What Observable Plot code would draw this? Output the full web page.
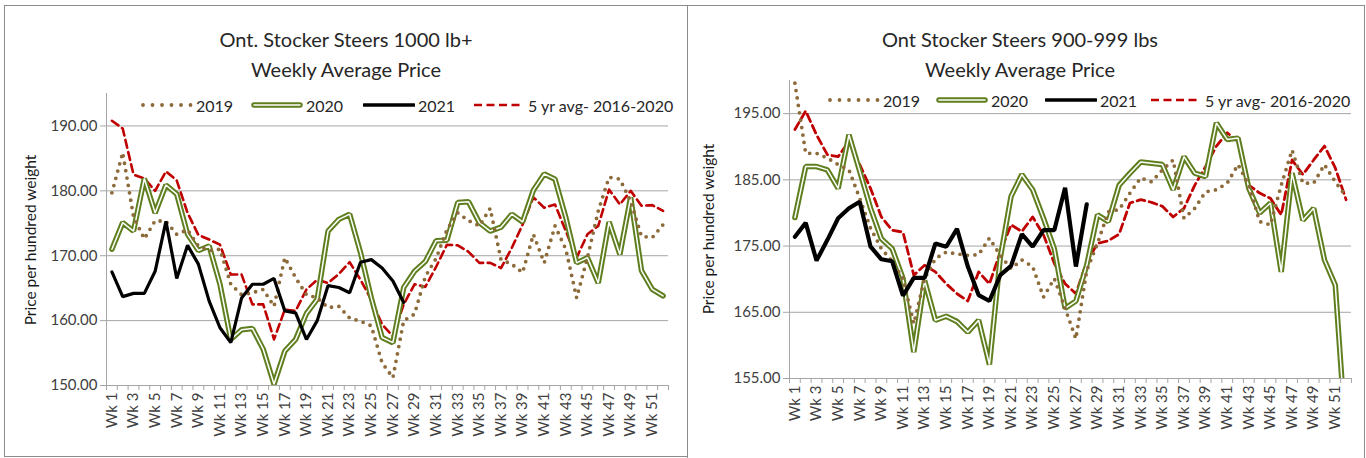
<!DOCTYPE html>
<html>
<head>
<meta charset="utf-8">
<script src="https://cdn.jsdelivr.net/npm/d3@7"></script>
<script src="https://cdn.jsdelivr.net/npm/@observablehq/plot@0.6"></script>
<style>
  html, body { margin: 0; padding: 0; background: #fff; }
  #root { position: relative; width: 1366px; height: 458px; overflow: hidden; background: #fff; font-family: Lato, "Open Sans", sans-serif; }
  .panel { position: absolute; border: 1px solid #8c8c8c; box-sizing: border-box; background: #fff; }
  .title { position: absolute; text-align: center; font-size: 20px; line-height: 30px; color: #262626; z-index: 3; white-space: nowrap; }
  .plotwrap { position: absolute; z-index: 1; }
  .leg { position: absolute; z-index: 2; display: flex; align-items: center; font-size: 16px; color: #262626; white-space: nowrap; height: 20px; }
  .leg svg { display: block; }
  .ylab { position: absolute; z-index: 2; width: 260px; height: 20px; line-height: 20px; text-align: center; font-size: 15.5px; color: #1a1a1a; transform: rotate(-90deg); white-space: nowrap; }
</style>
</head>
<body>
<div id="root"></div>
<script>
// ---------- data ----------
const weeks = ["Wk 1","Wk 2","Wk 3","Wk 4","Wk 5","Wk 6","Wk 7","Wk 8","Wk 9","Wk 10",
  "Wk 11","Wk 12","Wk 13","Wk 14","Wk 15","Wk 16","Wk 17","Wk 18","Wk 19","Wk 20",
  "Wk 21","Wk 22","Wk 23","Wk 24","Wk 25","Wk 26","Wk 27","Wk 28","Wk 29","Wk 30",
  "Wk 31","Wk 32","Wk 33","Wk 34","Wk 35","Wk 36","Wk 37","Wk 38","Wk 39","Wk 40",
  "Wk 41","Wk 42","Wk 43","Wk 44","Wk 45","Wk 46","Wk 47","Wk 48","Wk 49","Wk 50",
  "Wk 51","Wk 52"];
const seriesNames = ["2019", "2020", "2021", "5 yr avg- 2016-2020"];
const yTitle = "Price per hundred weight";

// Left: Ont. Stocker Steers 1000 lb+
const left2019 = [179.7,185.9,176.0,172.6,175.4,175.3,173.3,174.0,171.5,170.8,
  171.0,165.6,164.0,164.3,164.8,162.2,169.7,166.6,164.0,163.5,
  162.0,162.2,160.4,159.9,159.2,153.5,151.2,160.0,161.0,166.8,
  169.6,174.0,176.6,175.4,174.6,177.3,169.4,168.7,167.4,173.3,
  168.9,174.6,171.0,163.5,169.7,176.9,182.1,181.8,178.4,173.0,
  172.8,174.8];
const left2020 = [171.0,175.1,173.8,181.9,176.6,180.9,179.5,173.3,170.8,171.5,
  165.6,157.1,158.6,158.8,155.6,150.2,155.3,157.1,161.1,163.3,
  173.8,175.6,176.4,170.5,163.5,157.4,156.6,165.1,167.6,169.1,
  172.3,172.4,178.2,178.3,175.1,173.8,174.4,176.4,175.2,180.1,
  182.6,181.8,175.9,168.9,169.7,165.8,175.2,170.2,179.0,167.7,
  164.8,163.8];
const left2021 = [167.5,163.7,164.2,164.2,167.6,175.3,166.5,171.6,168.7,163.0,
  158.9,156.6,163.5,165.6,165.6,166.5,161.5,161.2,157.1,160.0,
  165.4,165.1,164.3,169.0,169.4,168.1,166.1,162.8];
const left5yr = [190.8,189.6,182.5,181.9,180.0,183.0,181.6,176.6,173.2,172.5,
  171.7,167.1,167.1,162.5,162.5,157.1,161.7,161.5,164.8,166.3,
  165.8,167.2,169.0,166.3,163.2,159.4,157.6,162.5,165.6,165.2,
  168.3,171.7,171.6,170.6,168.9,168.9,168.1,171.2,174.8,179.0,
  177.4,177.9,173.8,169.7,173.3,174.6,180.2,177.9,180.0,177.7,
  177.8,176.9];
const leftTicks = [150, 160, 170, 180, 190];

// Right: Ont Stocker Steers 900-999 lbs
const right2019 = [199.6,189.0,189.0,188.3,187.3,186.5,182.2,177.7,174.6,172.7,
  170.1,163.3,170.1,173.1,174.1,173.8,173.6,173.7,176.2,173.6,
  171.6,172.9,171.9,167.3,170.1,165.6,161.0,171.3,175.4,180.2,
  180.5,183.0,185.3,184.7,186.5,188.0,179.2,180.7,183.2,183.5,
  184.5,187.3,184.2,178.7,178.2,184.2,189.5,184.5,184.5,187.3,
  184.7,182.5];
const right2020 = [179.3,187.0,187.0,186.5,183.7,191.8,186.3,180.7,176.1,174.6,
  170.1,159.0,169.8,163.8,164.4,163.6,162.0,163.8,157.1,173.2,
  182.5,185.8,183.5,179.2,174.6,165.6,166.7,172.1,179.7,178.7,
  184.2,186.0,187.7,187.5,187.3,183.5,188.5,186.0,185.5,193.6,
  191.1,191.3,183.7,180.0,181.5,171.1,186.0,178.9,180.7,172.9,
  169.1,145.5];
const right2021 = [176.4,178.5,172.8,175.9,179.2,180.7,181.7,174.9,173.0,172.7,
  167.5,170.2,170.2,175.4,174.9,177.6,171.9,167.6,166.7,170.6,
  172.0,176.8,174.9,177.4,177.4,183.8,171.9,181.3];
const right5yr = [192.6,195.4,191.8,188.8,188.5,190.8,187.3,183.7,179.4,177.4,
  177.1,170.6,172.1,171.1,169.3,167.8,166.7,171.1,169.3,174.1,
  178.2,177.2,179.4,176.7,172.4,169.3,167.8,172.6,175.4,175.8,
  176.8,181.5,182.0,181.6,181.0,179.4,180.7,184.2,187.0,190.1,
  192.1,190.8,184.2,183.0,182.2,179.7,188.0,185.8,188.0,190.1,
  186.8,182.0];
const rightTicks = [155, 165, 175, 185, 195];

// ---------- styles ----------
const C2019 = "#8c6a3a", C2020 = "#5f7f1f", C2021 = "#000000", C5YR = "#c00000";
const GRID = "#a6a6a6";

function makeChart(cfg) {
  const wk = (d, i) => i + 1;
  const boundaries = d3.range(0.5, weeks.length + 1, 1);
  const oddWeeks = d3.range(1, weeks.length + 1, 2);
  return Plot.plot({
    width: cfg.width,
    height: cfg.height,
    marginLeft: cfg.ml, marginRight: cfg.mr, marginTop: cfg.mt, marginBottom: cfg.mb,
    style: { fontFamily: "Lato, 'Open Sans', sans-serif", fontSize: "15px", color: "#404040", background: "transparent", overflow: "visible" },
    x: { type: "linear", domain: [0.5, weeks.length + 0.5] },
    y: { domain: cfg.ydomain },
    marks: [
      Plot.gridY(cfg.ticks, { stroke: GRID, strokeOpacity: 1, strokeWidth: 1 }),
      Plot.ruleX([0.5], { stroke: GRID, strokeWidth: 1 }),
      Plot.axisY(cfg.ticks, {
        tickFormat: d3.format(".2f"), tickSize: 6, tickPadding: 3, stroke: GRID, fill: "#404040",
        fontSize: 15, label: null
      }),
      Plot.axisX(boundaries, { tickSize: 5, stroke: GRID, tickFormat: () => "", label: null }),
      Plot.axisX(oddWeeks, { tickSize: 0, tickPadding: cfg.xpad, tickRotate: -90, tickFormat: d => weeks[d - 1], fontSize: 15, fill: "#404040", label: null }),
      Plot.lineY(cfg.s5yr, { x: wk, y: d => d, stroke: C5YR, strokeWidth: cfg.w5, strokeDasharray: "8 4.5", clip: true }),
      Plot.lineY(cfg.s2020, { x: wk, y: d => d, stroke: C2020, strokeWidth: 5.5, strokeLinejoin: "miter", clip: true }),
      Plot.lineY(cfg.s2020, { x: wk, y: d => d, stroke: "#ffffff", strokeWidth: 1.5, strokeLinejoin: "miter", clip: true }),
      Plot.lineY(cfg.s2019, { x: wk, y: d => d, stroke: C2019, strokeWidth: 3.8, strokeDasharray: "0 7.5", strokeLinecap: "round", clip: true }),
      Plot.lineY(cfg.s2021, { x: wk, y: d => d, stroke: C2021, strokeWidth: cfg.w21, strokeLinejoin: "miter", clip: true })
    ]
  });
}

function sample(kind) {
  const ns = "http://www.w3.org/2000/svg";
  const s = document.createElementNS(ns, "svg");
  s.setAttribute("width", 52); s.setAttribute("height", 12);
  const line = (attrs) => { const l = document.createElementNS(ns, "line"); for (const k in attrs) l.setAttribute(k, attrs[k]); s.appendChild(l); };
  if (kind === 0) line({ x1: 2, x2: 50, y1: 6, y2: 6, stroke: C2019, "stroke-width": 3.8, "stroke-dasharray": "0 9.5", "stroke-linecap": "round" });
  if (kind === 1) { line({ x1: 3, x2: 49, y1: 6, y2: 6, stroke: C2020, "stroke-width": 5.5, "stroke-linecap": "round" }); line({ x1: 3, x2: 49, y1: 6, y2: 6, stroke: "#fff", "stroke-width": 1.5, "stroke-linecap": "round" }); }
  if (kind === 2) line({ x1: 1, x2: 51, y1: 6, y2: 6, stroke: C2021, "stroke-width": 3.5, "stroke-linecap": "round" });
  if (kind === 3) line({ x1: 1, x2: 51, y1: 6, y2: 6, stroke: C5YR, "stroke-width": 2.6, "stroke-dasharray": "8 4.5" });
  return s;
}

function buildPanel(p) {
  const root = document.getElementById("root");
  const panel = document.createElement("div");
  panel.className = "panel";
  Object.assign(panel.style, { left: p.left + "px", top: p.top + "px", width: p.w + "px", height: p.h + "px" });
  root.appendChild(panel);
  // title
  const t = document.createElement("div");
  t.className = "title";
  Object.assign(t.style, { left: p.titleLeft + "px", width: p.titleW + "px", top: p.titleTop + "px" });
  t.innerHTML = p.title.join("<br>");
  panel.appendChild(t);
  // y axis title
  const yl = document.createElement("div");
  yl.className = "ylab";
  yl.textContent = yTitle;
  Object.assign(yl.style, { left: (p.ylabX - p.left - 1 - 130) + "px", top: (p.ylabY - p.top - 1 - 10) + "px" });
  panel.appendChild(yl);
  // legend
  p.legend.forEach((x, i) => {
    const g = document.createElement("div");
    g.className = "leg";
    Object.assign(g.style, { left: (x - p.left - 1) + "px", top: (p.legY - p.top - 1 - 10) + "px" });
    g.appendChild(sample(i));
    const sp = document.createElement("span");
    sp.textContent = seriesNames[i];
    sp.style.marginLeft = "3px";
    g.appendChild(sp);
    panel.appendChild(g);
  });
  // plot
  const w = document.createElement("div");
  w.className = "plotwrap";
  Object.assign(w.style, { left: "0px", top: (p.plotTop - p.top - 1) + "px" });
  w.appendChild(makeChart(p.chart));
  panel.appendChild(w);
}

buildPanel({
  left: 4, top: 5, w: 684, h: 452,
  title: ["Ont. Stocker Steers 1000 lb+", "Weekly Average Price"],
  titleLeft: 0, titleW: 682, titleTop: 18,
  ylabX: 30, ylabY: 240,
  legY: 105, legend: [141, 251, 363, 473],
  plotTop: 80,
  chart: { width: 682, height: 375, ml: 101, mr: 19, mt: 13, mb: 70, ydomain: [150, 195], ticks: leftTicks,
    s2019: left2019, s2020: left2020, s2021: left2021, s5yr: left5yr, w21: 3.2, w5: 2.6, xpad: 7 }
});
buildPanel({
  left: 687, top: 5, w: 678, h: 460,
  title: ["Ont Stocker Steers 900-999 lbs", "Weekly Average Price"],
  titleLeft: 0, titleW: 664, titleTop: 18,
  ylabX: 708, ylabY: 229,
  legY: 100, legend: [828, 936, 1045, 1150],
  plotTop: 70,
  chart: { width: 676, height: 388, ml: 101, mr: 13, mt: 10, mb: 80, ydomain: [155, 200], ticks: rightTicks,
    s2019: right2019, s2020: right2020, s2021: right2021, s5yr: right5yr, w21: 4.2, w5: 2.8, xpad: 7 }
});
</script>
</body>
</html>
